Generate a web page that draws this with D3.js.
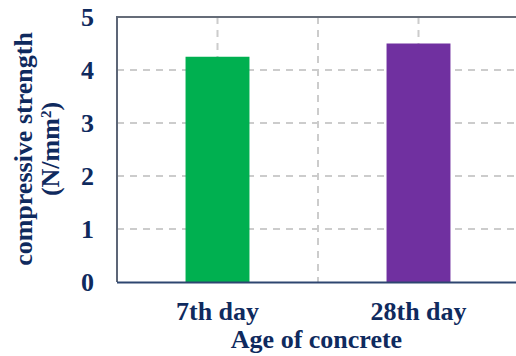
<!DOCTYPE html>
<html>
<head>
<meta charset="utf-8">
<script src="https://cdn.jsdelivr.net/npm/d3@7"></script>
<style>
  html, body { margin: 0; padding: 0; background: #fff; }
  svg { display: block; }
  text { font-family: "Liberation Serif", "Times New Roman", serif; font-weight: bold; fill: #0f2a5e; }
</style>
</head>
<body>
<svg id="chart" width="516" height="356"></svg>
<script>
// Compressive strength by age of concrete
const categories = ["7th day", "28th day"];
const strengths = [4.25, 4.5];
const barColors = ["#00b050", "#7030a0"];
const yTicks = [0, 1, 2, 3, 4, 5];

const svg = d3.select("#chart");
const plotLeft = 117, plotRight = 519, plotTop = 17, plotBottom = 282;

const x = d3.scaleBand().domain(categories).range([plotLeft, plotRight]).padding(0);
const y = d3.scaleLinear().domain([0, 5]).range([plotBottom, plotTop]);
const barFrac = 0.318;

// gridlines
const grid = svg.append("g");
grid.selectAll("line.h").data(yTicks.filter(d => d > 0 && d < 5)).join("line")
  .attr("x1", plotLeft).attr("x2", 516)
  .attr("y1", d => y(d)).attr("y2", d => y(d))
  .attr("stroke", "#cccccc").attr("stroke-width", 2).attr("stroke-dasharray", "7,6");
const vLines = categories.map(c => x(c) + x.bandwidth() / 2).concat([x(categories[1])]);
grid.selectAll("line.v").data(vLines).join("line")
  .attr("x1", d => d).attr("x2", d => d)
  .attr("y1", plotTop).attr("y2", plotBottom)
  .attr("stroke", "#cccccc").attr("stroke-width", 2).attr("stroke-dasharray", "7,6");

// bars
svg.append("g").selectAll("rect").data(strengths).join("rect")
  .attr("x", (d, i) => x(categories[i]) + x.bandwidth() * (1 - barFrac) / 2)
  .attr("width", x.bandwidth() * barFrac)
  .attr("y", d => y(d))
  .attr("height", d => y(0) - y(d))
  .attr("fill", (d, i) => barColors[i]);

// frame: top and left border, bottom axis
svg.append("line").attr("x1", plotLeft).attr("x2", 516).attr("y1", y(5)).attr("y2", y(5))
  .attr("stroke", "#656c78").attr("stroke-width", 2);
svg.append("line").attr("x1", plotLeft).attr("x2", plotLeft).attr("y1", y(5) - 1).attr("y2", plotBottom)
  .attr("stroke", "#5d6677").attr("stroke-width", 2);

// y axis labels
const yAxis = d3.axisLeft(y).tickValues(yTicks).tickSize(0).tickPadding(23).tickFormat(d3.format("d"));
const gy = svg.append("g").attr("transform", `translate(${plotLeft},0)`).call(yAxis);
gy.select(".domain").remove();
gy.selectAll("text").attr("font-size", 26).attr("font-family", null).attr("fill", null)
  .attr("dy", "0.34em");

// x axis
const xAxis = d3.axisBottom(x).tickSize(0).tickPadding(20);
const gx = svg.append("g").attr("transform", `translate(0,${plotBottom})`).call(xAxis);
gx.select(".domain").attr("stroke", "#2e4670").attr("stroke-width", 2.2)
  .attr("d", `M${plotLeft},0.5H516`);
gx.selectAll("text").attr("font-size", 26).attr("font-family", null).attr("fill", null)
  .attr("dy", "0.71em");

// axis titles
svg.append("text").attr("x", (plotLeft + 516) / 2).attr("y", 348)
  .attr("text-anchor", "middle").attr("font-size", 26).text("Age of concrete");

const yt = svg.append("text").attr("transform", "translate(32,149) rotate(-90)")
  .attr("text-anchor", "middle").attr("font-size", 26);
yt.append("tspan").attr("x", 0).attr("y", 0).text("compressive strength");
const t2 = yt.append("tspan").attr("x", 0).attr("y", 27).text("(N/mm");
t2.append("tspan").attr("font-size", 15).attr("dy", -8).text("2");
t2.append("tspan").attr("dy", 8).text(")");
</script>
</body>
</html>
